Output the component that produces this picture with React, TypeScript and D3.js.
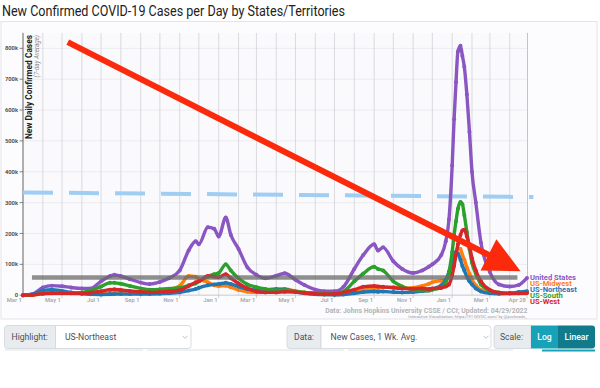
import React from 'react';
import { scaleLinear, scaleTime, timeParse, timeFormat, timeMonth, line, curveMonotoneX } from 'd3';

// sample dates (denser around the Omicron peak)
const dates = [
    '2020-03-01', '2020-03-15', '2020-04-01', '2020-04-15', '2020-05-01', '2020-05-15', '2020-06-01', '2020-06-15',
    '2020-07-01', '2020-07-15', '2020-07-22', '2020-08-01', '2020-08-15', '2020-09-01', '2020-09-15', '2020-10-01',
    '2020-10-15', '2020-11-01', '2020-11-15', '2020-11-26', '2020-12-01', '2020-12-15', '2020-12-25',
    '2021-01-01', '2021-01-12', '2021-01-20', '2021-02-01', '2021-02-15', '2021-03-01', '2021-03-15', '2021-04-01',
    '2021-04-14', '2021-05-01', '2021-05-15', '2021-06-01', '2021-06-15', '2021-07-01', '2021-07-15', '2021-08-01',
    '2021-08-15', '2021-09-01', '2021-09-07', '2021-09-15', '2021-10-01', '2021-10-15', '2021-11-01', '2021-11-15',
    '2021-11-26', '2021-12-01', '2021-12-15', '2021-12-22', '2021-12-27',
    '2022-01-01', '2022-01-04', '2022-01-07', '2022-01-10', '2022-01-14', '2022-01-17', '2022-01-20', '2022-01-24',
    '2022-01-28', '2022-02-01', '2022-02-07', '2022-02-15', '2022-03-01', '2022-03-15', '2022-04-01', '2022-04-15',
    '2022-04-28'
];

// new cases, 7-day average, in thousands
const unitedStates = [
    0, 3, 25, 31, 29, 25, 22, 22, 45, 62, 66, 62, 52, 41, 36, 43,
    55, 80, 145, 175, 165, 220, 215,
    190, 252, 195, 150, 90, 66, 55, 63,
    71, 50, 33, 18, 13, 13, 27, 85,
    130, 165, 145, 155, 110, 85, 72, 80,
    93, 100, 130, 175, 245,
    420, 570, 690, 790, 808, 775, 740, 650,
    530, 400, 300, 170, 75, 35, 28, 33,
    56
];
const usMidwest = [
    0, 0.5, 5, 7, 7, 6, 5, 4, 5, 7, 8, 9, 9, 10, 10, 13,
    18, 30, 62, 60, 52, 42, 32,
    30, 31, 26, 17, 11, 9, 11, 17,
    20, 13, 9, 4, 2.5, 2, 4, 10,
    16, 22, 22, 26, 26, 23, 24, 30,
    37, 42, 47, 50, 65,
    95, 120, 140, 152, 150, 130, 115, 90,
    70, 50, 32, 17, 8, 5, 5, 6,
    9
];
const usNortheast = [
    0, 2, 15, 18, 14, 9, 5, 3, 2.5, 3, 3.5, 3.5, 3.5, 3.5, 4, 5,
    6, 9, 15, 20, 24, 32, 35,
    36, 40, 36, 28, 20, 17, 18, 20,
    19, 11, 6, 3, 2, 1.5, 2.5, 6,
    10, 12, 11, 12, 10, 9, 10, 13,
    16, 20, 32, 50, 75,
    105, 125, 140, 135, 115, 95, 80, 60,
    45, 35, 22, 12, 6, 5, 7, 10,
    13
];
const usSouth = [
    0, 1, 6, 8, 7, 7, 9, 15, 28, 40, 40, 37, 30, 22, 18, 19,
    21, 24, 32, 38, 45, 60, 68,
    72, 100, 80, 55, 35, 26, 20, 16,
    17, 12, 9, 7, 5, 5.5, 12, 45,
    70, 92, 85, 80, 45, 28, 17, 15,
    15, 18, 24, 40, 75,
    140, 195, 240, 280, 302, 295, 260, 205,
    150, 105, 70, 35, 15, 9, 6, 6,
    8
];
const usWest = [
    0, 1, 5, 6, 6, 6, 6, 8, 13, 18, 19, 17, 14, 11, 9, 10,
    12, 16, 30, 42, 45, 62, 60,
    58, 68, 55, 38, 22, 12, 9, 9,
    11, 10, 7, 4.5, 3.5, 4, 9, 18,
    27, 30, 28, 27, 24, 22, 21, 22,
    20, 22, 24, 28, 35,
    65, 95, 130, 165, 195, 210, 212, 190,
    160, 120, 80, 45, 17, 8, 6, 6,
    7
];

const seriesNames = ['United States', 'US-Midwest', 'US-Northeast', 'US-South', 'US-West'];
const seriesValues = [unitedStates, usMidwest, usNortheast, usSouth, usWest];
const seriesColors = ['#8a56c2', '#ff7f0e', '#1f77b4', '#2ca02c', '#d62728'];

const yTicks = [0, 100, 200, 300, 400, 500, 600, 700, 800];

// hand-drawn annotations on top of the screenshot, in data space
const dashedLevel = [['2020-03-01', 333], ['2022-05-08', 318]];
const grayLevel = [['2020-03-15', 57], ['2022-04-13', 57]];
const arrowPoints = [['2020-05-10', 820], ['2022-04-18', 78]];

const parse = timeParse('%Y-%m-%d');
const fmt = timeFormat('%b %-d');

const W = 600, H = 388;

const x = scaleTime()
    .domain([parse('2020-03-01'), parse('2022-04-28')])
    .range([23, 527]);

const y = scaleLinear()
    .domain([0, 850])
    .range([295.2, 32.9]);

const plotTop = y(850);
const plotBottom = y(0);

const Chevron = ({ cx, cy }) => (
    <path d={`M${cx - 2.5},${cy - 1.2} L${cx},${cy + 1.3} L${cx + 2.5},${cy - 1.2}`} fill="none" stroke="#a0a4a8" strokeWidth={0.7} />
);

const Controls = () => {
    const top = 325.5, h = 23, mid = top + h / 2 + 3;
    return (
        <g fontFamily="Roboto, sans-serif" fontSize={8.6}>
            <path d={`M7.5,${top} H55.5 V${top + h} H7.5 a3,3 0 0 1 -3,-3 V${top + 3} a3,3 0 0 1 3,-3 Z`} fill="#e9ecef" stroke="#ced4da" strokeWidth={0.8} />
            <text x={11.5} y={mid} fill="#495057">Highlight:</text>
            <path d={`M55.5,${top} H188 a3,3 0 0 1 3,3 V${top + h - 3} a3,3 0 0 1 -3,3 H55.5 Z`} fill="#fff" stroke="#ced4da" strokeWidth={0.8} />
            <text x={65} y={mid} fill="#495057">US-Northeast</text>
            <Chevron cx={185} cy={top + h / 2} />

            <path d={`M290,${top} H321 V${top + h} H290 a3,3 0 0 1 -3,-3 V${top + 3} a3,3 0 0 1 3,-3 Z`} fill="#e9ecef" stroke="#ced4da" strokeWidth={0.8} />
            <text x={294} y={mid} fill="#495057">Data:</text>
            <path d={`M321,${top} H488 a3,3 0 0 1 3,3 V${top + h - 3} a3,3 0 0 1 -3,3 H321 Z`} fill="#fff" stroke="#ced4da" strokeWidth={0.8} />
            <text x={330.5} y={mid} fill="#495057">New Cases, 1 Wk. Avg.</text>
            <Chevron cx={486} cy={top + h / 2} />

            <path d={`M497,${top} H531 V${top + h} H497 a3,3 0 0 1 -3,-3 V${top + 3} a3,3 0 0 1 3,-3 Z`} fill="#e9ecef" stroke="#ced4da" strokeWidth={0.8} />
            <text x={500} y={mid} fill="#495057">Scale:</text>
            <rect x={531} y={top} width={27} height={h} fill="#17a2b8" />
            <text x={544.5} y={mid} fill="#fff" textAnchor="middle" fontWeight={500}>Log</text>
            <path d={`M558,${top} H592 a3,3 0 0 1 3,3 V${top + h - 3} a3,3 0 0 1 -3,3 H558 Z`} fill="#117a8b" />
            <text x={576.5} y={mid} fill="#fff" textAnchor="middle" fontWeight={500}>Linear</text>

            {/* next row, cut off */}
            {[[4.5, 143], [147, 344], [348, 513]].map(([a, b]) => (
                <line key={a} x1={a} x2={b} y1={350} y2={350} stroke="#dfe2e6" strokeWidth={1} />
            ))}
            <rect x={542} y={349.5} width={53} height={2} fill="#17a2b8" />
        </g>
    );
};

const App = () => {
    const months = timeMonth.range(parse('2020-03-01'), parse('2022-04-29'));
    const xLabels = timeMonth.every(2).range(parse('2020-03-01'), parse('2022-04-28'));
    const endDate = parse('2022-04-28');

    const pathFor = line()
        .x(d => x(d[0]))
        .y(d => y(d[1]))
        .curve(curveMonotoneX);

    const straight = line()
        .x(d => x(parse(d[0])))
        .y(d => y(d[1]));

    // arrow in pixel space
    const ax0 = x(parse(arrowPoints[0][0])), ay0 = y(arrowPoints[0][1]);
    const ax1 = x(parse(arrowPoints[1][0])), ay1 = y(arrowPoints[1][1]);
    const len = Math.hypot(ax1 - ax0, ay1 - ay0);
    const ux = (ax1 - ax0) / len, uy = (ay1 - ay0) / len;
    const headLen = 36, headHalf = 17.5;
    const bx = ax1 - ux * headLen, by = ay1 - uy * headLen;

    return (
        <svg width={W} height={H} style={{ position: 'absolute', left: 0, top: 0, background: '#fff' }}>
            <text x={2} y={15.5} fontFamily="Roboto, sans-serif" fontSize={15} fill="#222" textLength={343} lengthAdjust="spacingAndGlyphs">
                New Confirmed COVID-19 Cases per Day by States/Territories
            </text>

            <rect x={1} y={21.5} width={596} height={297.5} fill="#fcfcfe" stroke="#e4e4ea" strokeWidth={1} />
            <rect x={23} y={plotTop} width={504} height={plotBottom - plotTop} fill="#fafafd" />

            {/* grid */}
            {yTicks.map(t => (
                <line key={t} x1={23} x2={527} y1={y(t)} y2={y(t)} stroke="#ebebf1" strokeWidth={1} />
            ))}
            {months.map(m => (
                <line key={+m} x1={x(m)} x2={x(m)} y1={plotTop} y2={plotBottom} stroke="#d6d6dc" strokeWidth={0.9} />
            ))}
            <line x1={527.5} x2={527.5} y1={plotTop} y2={plotBottom} stroke="#c4c4c8" strokeWidth={1} />

            {/* y axis */}
            <line x1={23} x2={23} y1={plotTop} y2={plotBottom} stroke="#555" strokeWidth={0.8} />
            {yTicks.map(t => (
                <g key={t} transform={`translate(0, ${y(t)})`}>
                    <line x1={19.5} x2={23} stroke="#555" strokeWidth={0.7} />
                    <text x={18} dy="0.35em" textAnchor="end" fontFamily="Roboto, sans-serif" fontSize={5.8} fontWeight={600} fill="#444">
                        {t === 0 ? '0' : `${t}k`}
                    </text>
                </g>
            ))}

            {/* x axis */}
            <line x1={23} x2={527} y1={plotBottom} y2={plotBottom} stroke="#c8c8cc" strokeWidth={0.8} />
            {[...xLabels, endDate].map(d => (
                <g key={+d} transform={`translate(${x(d)}, ${plotBottom})`}>
                    <line y1={0} y2={3} stroke="#bbb" strokeWidth={0.7} />
                    <text x={-1.2} y={6.6} textAnchor="end" fontFamily="Roboto, sans-serif" fontSize={5.8} fontWeight={600} fill="#a8a8a8">
                        {+d === +endDate ? 'Apr 28' : fmt(d)}
                    </text>
                </g>
            ))}

            {/* y title */}
            <text transform="translate(31.8, 35) rotate(-90)" textAnchor="end" fontFamily="Roboto, sans-serif" fontSize={8.4} fontWeight={700} fill="#222">
                New Daily Confirmed Cases
            </text>
            <text transform="translate(38.8, 35) rotate(-90)" textAnchor="end" fontFamily="Roboto, sans-serif" fontSize={6.3} fontStyle="italic" fill="#8a8a8a">
                (7-day Average)
            </text>

            {/* dashed light-blue annotation */}
            <path d={straight(dashedLevel)} stroke="#9fcdf3" strokeWidth={4} strokeDasharray="30 16" fill="none" />

            {/* series */}
            {seriesValues.map((vals, i) => {
                const pts = dates.map((d, j) => [parse(d), vals[j]]);
                return (
                    <g key={seriesNames[i]}>
                        <path d={pathFor(pts)} fill="none" stroke={seriesColors[i]} strokeWidth={3.4} strokeLinejoin="round" />
                        {pts.map((p, j) => (
                            <circle key={j} cx={x(p[0])} cy={y(p[1])} r={2} fill={seriesColors[i]} />
                        ))}
                    </g>
                );
            })}

            {/* gray annotation line */}
            <path d={straight(grayLevel)} stroke="#6a6a6a" strokeOpacity={0.75} strokeWidth={4.5} fill="none" />

            {/* red arrow */}
            <line x1={ax0} y1={ay0} x2={bx + ux * 2} y2={by + uy * 2} stroke="#fb2a0c" strokeWidth={6} />
            <path
                d={`M${ax1},${ay1} L${bx - uy * headHalf},${by + ux * headHalf} L${bx + uy * headHalf},${by - ux * headHalf} Z`}
                fill="#fb2a0c"
            />

            {/* legend */}
            {seriesNames.map((n, i) => (
                <text key={n} x={530} y={280.4 + i * 5.9} fontFamily="Roboto, sans-serif" fontSize={7.6} fontWeight={700} fill={seriesColors[i]}>
                    {n}
                </text>
            ))}

            {/* source */}
            <text x={527.5} y={313.2} textAnchor="end" fontFamily="Roboto, sans-serif" fontSize={6.9} fontWeight={700} fill="#b4b4b8">
                Data: Johns Hopkins University CSSE / CCI; Updated: 04/29/2022
            </text>
            <text x={527} y={318.4} textAnchor="end" fontFamily="Roboto, sans-serif" fontSize={4.2} fill="#9a9a9a">
                Interactive Visualization: https://91-DIVOC.com/ by @profwade_
            </text>

            <Controls />
        </svg>
    );
};

export default App;
